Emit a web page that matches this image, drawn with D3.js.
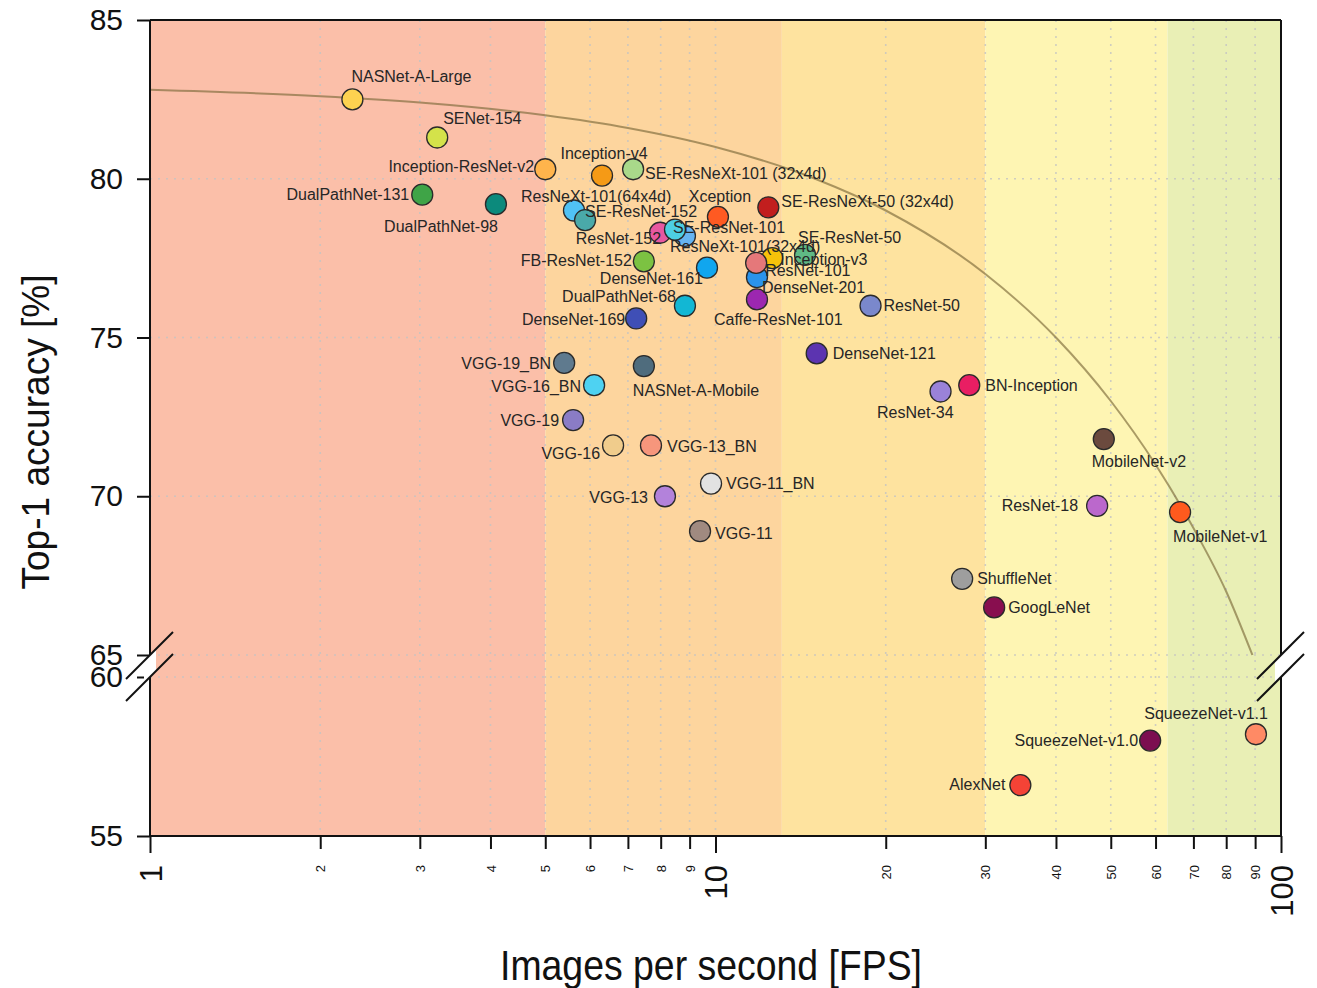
<!DOCTYPE html>
<html>
<head>
<meta charset="utf-8">
<script src="https://cdn.jsdelivr.net/npm/d3@7/dist/d3.min.js"></script>
<style>
  body { margin: 0; background: #fff; }
  text { font-family: "Liberation Sans", Arial, sans-serif; }
</style>
</head>
<body>
<svg id="chart" width="1317" height="988"></svg>
<script>
// model names, in drawing order (later ones sit on top)
const models = [
  'NASNet-A-Large', 'SENet-154', 'Inception-ResNet-v2', 'Inception-v4', 'SE-ResNeXt-101 (32x4d)',
  'DualPathNet-131', 'DualPathNet-98', 'ResNeXt-101(64x4d)', 'SE-ResNet-152', 'Xception',
  'SE-ResNeXt-50 (32x4d)', 'ResNet-152', 'ResNeXt-101(32x4d)', 'SE-ResNet-101', 'FB-ResNet-152',
  'DenseNet-161', 'DenseNet-201', 'Inception-v3', 'ResNet-101', 'SE-ResNet-50', 'DualPathNet-68',
  'Caffe-ResNet-101', 'DenseNet-169', 'ResNet-50', 'DenseNet-121', 'VGG-19_BN', 'NASNet-A-Mobile',
  'VGG-16_BN', 'VGG-19', 'VGG-16', 'VGG-13_BN', 'VGG-11_BN', 'VGG-13', 'VGG-11', 'BN-Inception',
  'ResNet-34', 'MobileNet-v2', 'ResNet-18', 'MobileNet-v1', 'ShuffleNet', 'GoogLeNet',
  'SqueezeNet-v1.0', 'SqueezeNet-v1.1', 'AlexNet'
]
// images per second
const fps = [
  2.28, 3.22, 5.0, 6.3, 7.15,
  3.03, 4.09, 5.62, 5.88, 10.1,
  12.4, 7.98, 8.83, 8.48, 7.47,
  9.66, 11.84, 12.6, 11.8, 14.4, 8.83,
  11.84, 7.24, 18.8, 15.1, 5.4, 7.47,
  6.1, 5.6, 6.59, 7.69, 9.82, 8.14, 9.39, 28.1,
  25.0, 48.6, 47.3, 66.3, 27.3, 31.1,
  58.7, 90.3, 34.6
]
// top-1 accuracy [%]
const top1 = [
  82.5, 81.3, 80.3, 80.1, 80.3,
  79.5, 79.2, 79.0, 78.7, 78.8,
  79.1, 78.3, 78.2, 78.4, 77.4,
  77.2, 76.9, 77.5, 77.35, 77.6, 76.0,
  76.2, 75.6, 76.0, 74.5, 74.2, 74.1,
  73.5, 72.4, 71.6, 71.6, 70.4, 70.0, 68.9, 73.5,
  73.3, 71.8, 69.7, 69.5, 67.4, 66.5,
  58.0, 58.2, 56.6
]
// frontier curve
const frontFps = [1, 2, 3, 5, 7, 10, 15, 20, 30, 40, 50, 60, 70, 80, 89]
const frontAcc = [82.8, 82.6, 82.4, 82.0, 81.6, 81.0, 80.0, 79.0, 77.0, 75.0, 73.0, 71.0, 69.0, 67.0, 65.0]
// speed bands (fps limits)
const bandEdges = [1, 5, 13.1, 30, 63, 100]
const xTicks = [1, 2, 3, 4, 5, 6, 7, 8, 9, 10, 20, 30, 40, 50, 60, 70, 80, 90, 100]
const yTicksTop = [65, 70, 75, 80, 85]
const yTicksBot = [55, 60]

// styles
const dotColors = [
  '#fdd250', '#d4e24a', '#ffb44c', '#f59a16', '#a9d98a',
  '#3fa447', '#0c8a7c', '#50c2f5', '#4aa9a9', '#ff5a22',
  '#c21e1e', '#e858a0', '#66b4f2', '#4dcfe2', '#7cc242',
  '#10a6ef', '#2a93ec', '#f7c20a', '#e5787a', '#5fb985', '#12b7d4',
  '#9c27b0', '#3f4fb6', '#7a88cc', '#5c34b0', '#5f7a8e', '#4f6c7d',
  '#4ed2f2', '#8a7cc6', '#f0cc8c', '#f6967c', '#e2e2e2', '#b382db', '#a08a80', '#e91e63',
  '#9a82d8', '#6b4a3e', '#bb68cc', '#ff5a1e', '#9e9e9e', '#880e4f',
  '#7c0e50', '#ff8a65', '#f44336'
]
const bandColors = ['#fbbfa9', '#fdd59e', '#fee39f', '#fef5b3', '#e9efb5']
const labelPos = {
  'NASNet-A-Large': [-1, -23, 'start'], 'SENet-154': [6, -19, 'start'],
  'Inception-ResNet-v2': [-11, -3, 'end'], 'Inception-v4': [2, -22, 'middle'],
  'SE-ResNeXt-101 (32x4d)': [12, 4, 'start'], 'DualPathNet-131': [-13, 0, 'end'],
  'DualPathNet-98': [2, 22, 'end'], 'ResNeXt-101(64x4d)': [-53, -14, 'start'],
  'SE-ResNet-152': [0, -9, 'start'], 'Xception': [2, -20, 'middle'],
  'SE-ResNeXt-50 (32x4d)': [13, -6, 'start'], 'ResNet-152': [1, 6, 'end'],
  'ResNeXt-101(32x4d)': [-15, 10, 'start'], 'SE-ResNet-101': [-2, -2, 'start'],
  'FB-ResNet-152': [-12, -1, 'end'], 'DenseNet-161': [-4, 11, 'end'],
  'DenseNet-201': [5, 10, 'start'], 'Inception-v3': [8, 1, 'start'],
  'ResNet-101': [9, 8, 'start'], 'SE-ResNet-50': [-7, -18, 'start'],
  'DualPathNet-68': [-9, -9, 'end'], 'Caffe-ResNet-101': [-43, 20, 'start'],
  'DenseNet-169': [-11, 1, 'end'], 'ResNet-50': [13, 0, 'start'],
  'DenseNet-121': [16, 0, 'start'], 'VGG-19_BN': [-13, 0, 'end'],
  'NASNet-A-Mobile': [-11, 24, 'start'], 'VGG-16_BN': [-13, 1, 'end'],
  'VGG-19': [-14, 0, 'end'], 'VGG-16': [-13, 8, 'end'],
  'VGG-13_BN': [16, 1, 'start'], 'VGG-11_BN': [15, 0, 'start'],
  'VGG-13': [-17, 1, 'end'], 'VGG-11': [15, 2, 'start'],
  'BN-Inception': [16, 0, 'start'], 'ResNet-34': [13, 21, 'end'],
  'MobileNet-v2': [-12, 22, 'start'], 'ResNet-18': [-19, 0, 'end'],
  'MobileNet-v1': [-7, 24, 'start'], 'ShuffleNet': [15, 0, 'start'],
  'GoogLeNet': [14, 0, 'start'], 'SqueezeNet-v1.0': [-12, 0, 'end'],
  'SqueezeNet-v1.1': [12, -21, 'end'], 'AlexNet': [-15, -1, 'end']
}

const data = models.map((m, i) => ({ name: m, fps: fps[i], acc: top1[i], color: dotColors[i] }))

const plotL = 150, plotR = 1281, plotT = 20, plotB = 836

const x = d3.scaleLog().domain([1, 100]).range([plotL, plotR])
const yTop = d3.scaleLinear().domain([65, 85]).range([655, plotT])
const yBot = d3.scaleLinear().domain([55, 60]).range([plotB, 677])
const y = v => v >= 62.5 ? yTop(v) : yBot(v)

const chart = d3.select('#chart')

// background bands
chart.append('g')
  .selectAll('rect')
  .data(d3.pairs(bandEdges))
  .enter()
  .append('rect')
  .attr('x', d => x(d[0]))
  .attr('y', plotT)
  .attr('width', d => x(d[1]) - x(d[0]))
  .attr('height', plotB - plotT)
  .attr('fill', (d, i) => bandColors[i])

// dotted grid
const grid = chart.append('g')
  .attr('stroke', '#c4c4c4')
  .attr('stroke-width', 1.6)
  .attr('stroke-dasharray', '2,6')
  .attr('opacity', 0.8)
grid.selectAll('.vg')
  .data(xTicks.filter(t => t > 1 && t < 100))
  .enter()
  .append('line')
  .attr('x1', d => x(d)).attr('x2', d => x(d))
  .attr('y1', plotT).attr('y2', plotB)
grid.selectAll('.hg')
  .data(yTicksTop.filter(t => t < 85).concat([60]))
  .enter()
  .append('line')
  .attr('x1', plotL).attr('x2', plotR)
  .attr('y1', d => y(d)).attr('y2', d => y(d))

// frontier curve
const front = frontFps.map((f, i) => ({ fps: f, acc: frontAcc[i] }))
chart.append('path')
  .datum(front)
  .attr('d', d3.line().x(d => x(d.fps)).y(d => y(d.acc)).curve(d3.curveMonotoneX))
  .attr('fill', 'none')
  .attr('stroke', '#7d6a3a')
  .attr('stroke-opacity', 0.65)
  .attr('stroke-width', 2)

// frame lines
const frame = chart.append('g').attr('stroke', '#111').attr('stroke-width', 2)
frame.append('line').attr('x1', plotL).attr('x2', plotR).attr('y1', plotT).attr('y2', plotT)
frame.append('line').attr('x1', plotL).attr('x2', plotR).attr('y1', plotB).attr('y2', plotB)
frame.append('line').attr('x1', plotL).attr('x2', plotL).attr('y1', plotT).attr('y2', plotB)
frame.append('line').attr('x1', plotR).attr('x2', plotR).attr('y1', plotT).attr('y2', plotB)

// x axis
const xAxis = d3.axisBottom(x)
  .tickValues(xTicks)
  .tickSize(13)
  .tickSizeOuter(0)
  .tickFormat(d => d)
const gx = chart.append('g')
  .attr('transform', `translate(0,${plotB})`)
  .call(xAxis)
gx.select('.domain').remove()
gx.selectAll('.tick line').attr('stroke', '#111').attr('stroke-width', 2)
  .attr('y2', d => [1, 10, 100].includes(d) ? 17 : 13)
gx.selectAll('.tick text')
  .attr('transform', 'rotate(-90)')
  .attr('x', -29)
  .attr('y', 0)
  .attr('dy', '0.36em')
  .attr('text-anchor', 'end')
  .attr('fill', '#111')
  .style('font-size', d => [1, 10, 100].includes(d) ? '31px' : '13px')

// y axes (two pieces around the break)
const styleY = g => {
  g.select('.domain').remove()
  g.selectAll('.tick line').attr('stroke', '#111').attr('stroke-width', 2)
  g.selectAll('.tick text').attr('fill', '#111').style('font-size', '30px')
}
chart.append('g')
  .attr('transform', `translate(${plotL},0)`)
  .call(d3.axisLeft(yTop).tickValues(yTicksTop).tickFormat(d3.format('d'))
    .tickSize(13).tickPadding(14).tickSizeOuter(0))
  .call(styleY)
chart.append('g')
  .attr('transform', `translate(${plotL},0)`)
  .call(d3.axisLeft(yBot).tickValues(yTicksBot).tickFormat(d3.format('d'))
    .tickSize(13).tickPadding(14).tickSizeOuter(0))
  .call(styleY)

// axis break marks on both sides
const b1 = yTop(65), b2 = yBot(60)
;[plotL, plotR].forEach(ax => {
  chart.append('path')
    .attr('d', `M${ax - 6},${b1 + 6}L${ax + 6},${b1 - 6}L${ax + 6},${b2 - 6}L${ax - 6},${b2 + 6}Z`)
    .attr('fill', '#fff')
  ;[b1, b2].forEach(b => {
    chart.append('line')
      .attr('x1', ax - 24).attr('y1', b + 24)
      .attr('x2', ax + 23).attr('y2', b - 23)
      .attr('stroke', '#111').attr('stroke-width', 2)
  })
})

// points
chart.append('g')
  .selectAll('circle')
  .data(data)
  .enter()
  .append('circle')
  .attr('cx', d => x(d.fps))
  .attr('cy', d => y(d.acc))
  .attr('r', 10.5)
  .attr('fill', d => d.color)
  .attr('stroke', '#2a2a2a')
  .attr('stroke-width', 1.3)

// point labels
chart.append('g')
  .selectAll('text')
  .data(data)
  .enter()
  .append('text')
  .text(d => d.name)
  .attr('x', d => x(d.fps) + labelPos[d.name][0])
  .attr('y', d => y(d.acc) + labelPos[d.name][1])
  .attr('dy', '0.35em')
  .attr('text-anchor', d => labelPos[d.name][2])
  .attr('fill', '#262626')
  .style('font-size', '16px')

// axis titles
chart.append('text')
  .text('Images per second [FPS]')
  .attr('x', 711)
  .attr('y', 980)
  .attr('text-anchor', 'middle')
  .attr('textLength', 422)
  .attr('lengthAdjust', 'spacingAndGlyphs')
  .attr('fill', '#111')
  .style('font-size', '42px')

chart.append('text')
  .text('Top-1 accuracy [%]')
  .attr('transform', 'translate(49,432) rotate(-90)')
  .attr('text-anchor', 'middle')
  .attr('textLength', 315)
  .attr('lengthAdjust', 'spacingAndGlyphs')
  .attr('fill', '#111')
  .style('font-size', '38px')
</script>
</body>
</html>
